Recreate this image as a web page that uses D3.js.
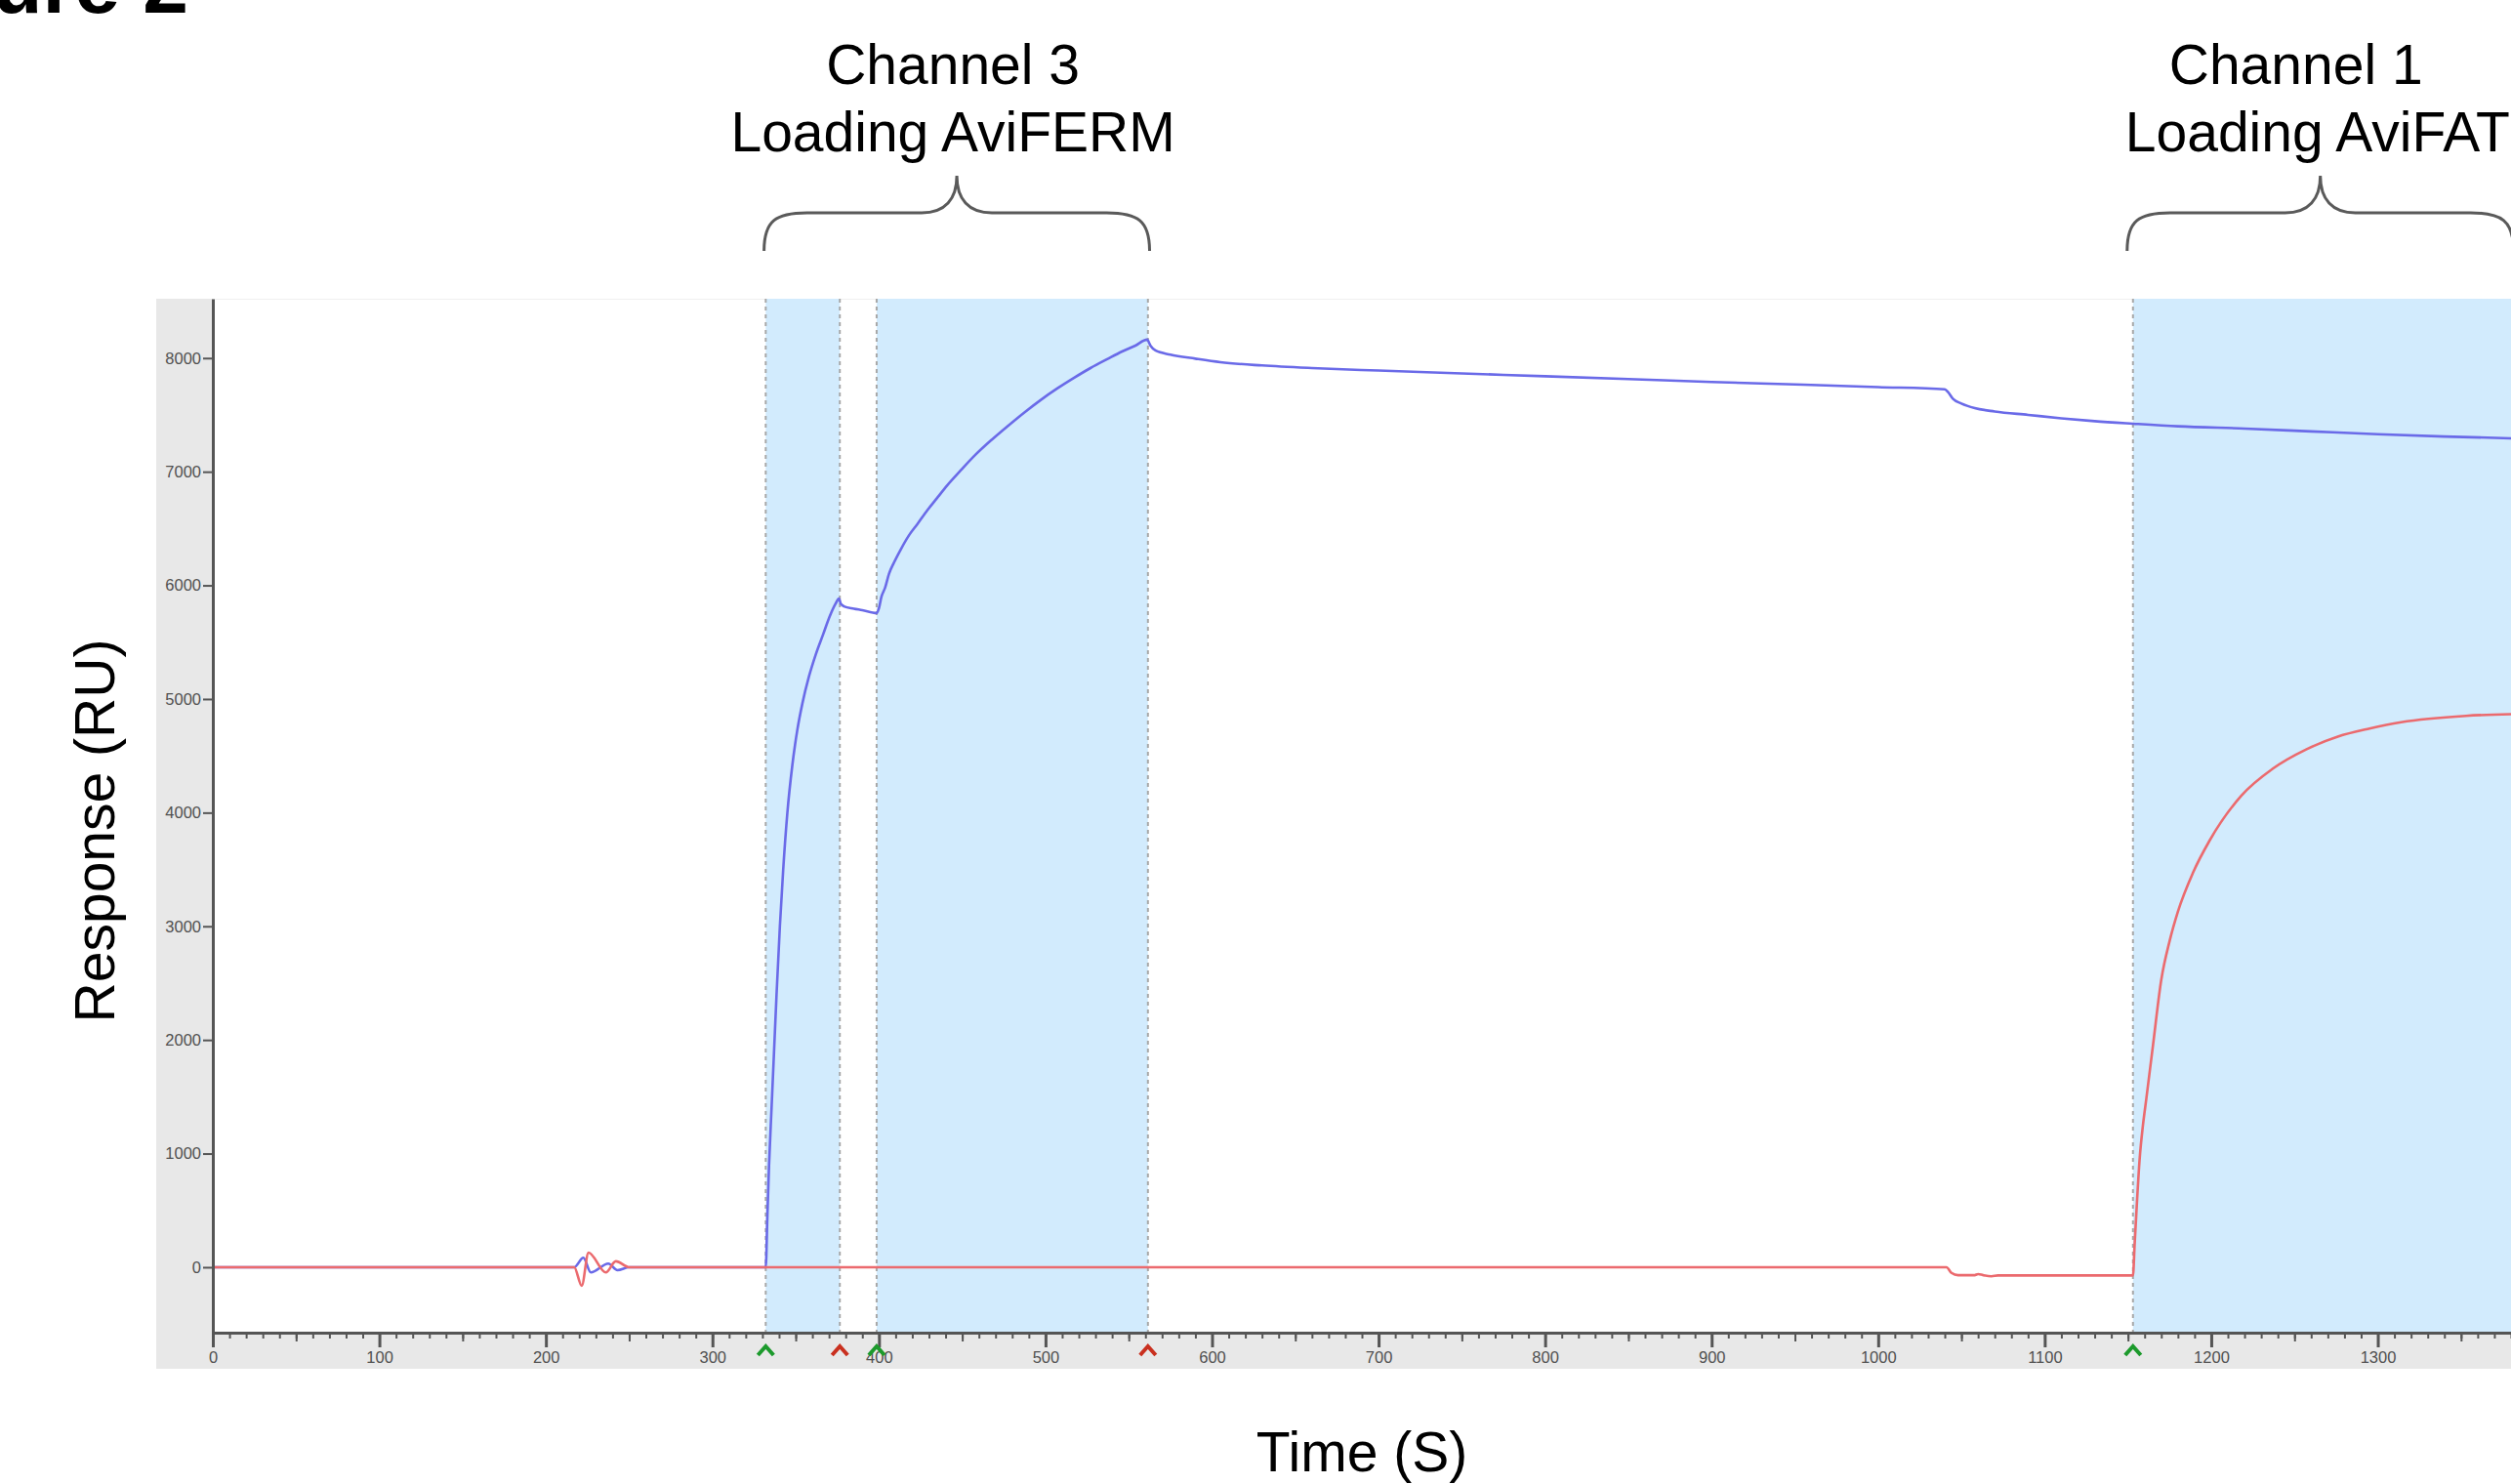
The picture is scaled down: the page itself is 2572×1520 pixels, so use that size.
<!DOCTYPE HTML>
<html>
<head>
    <title>Figure 2 - Sensorgram</title>
    <script type="text/javascript" src="https://cdn.jsdelivr.net/npm/d3@7/dist/d3.min.js"></script>
    <style>
        body { margin: 0; background-color: white; }
        .axis text { font-family: "Liberation Sans", Arial, sans-serif; font-size: 16.5px; fill: #505050; }
        .axis path, .axis line { stroke: #555; }
        .big-label { font-family: "Liberation Sans", Arial, sans-serif; font-size: 57px; fill: black; }
        .bracket { fill: none; stroke: #5a5a5a; stroke-width: 3; }
    </style>
</head>
<body>
    <div id="panel"></div>

    <script>
        // ---- data ----
        var blue_time = [0, 217, 222.5, 227, 237.5, 243, 250, 332,
                         333, 334, 335.5, 337, 338.5, 340.5, 342.5, 345, 348, 351, 354, 358,
                         362, 366.5, 370.5, 374, 376,
                         377, 379, 385, 390, 398.6,
                         400, 401.5, 403.7, 406, 409, 413, 418, 423, 429, 435, 441, 448.5, 458, 468,
                         478, 487.7, 497, 507, 517, 527, 537, 546, 554, 561,
                         563, 566, 575, 590, 605, 630, 660, 700, 750, 800, 850, 900, 950, 1000, 1040,
                         1042, 1045, 1050, 1058, 1070, 1090, 1110, 1130, 1153, 1180, 1220, 1260, 1300, 1340, 1380];
        var blue_resp = [0, 0, 83, -46, 32, -26, 0, 0,
                         450, 900, 1400, 1900, 2400, 3000, 3500, 4000, 4420, 4730, 4960, 5200,
                         5390, 5570, 5730, 5840, 5885,
                         5840, 5815, 5795, 5782, 5756,
                         5800, 5900, 5980, 6100, 6200, 6314, 6440, 6538, 6660, 6770, 6880, 7002, 7150, 7285,
                         7410, 7526, 7630, 7732, 7825, 7912, 7990, 8058, 8110, 8162,
                         8110, 8067, 8030, 7995, 7964, 7935, 7912, 7890, 7865, 7840, 7815, 7790, 7768, 7745, 7725,
                         7700, 7640, 7600, 7560, 7530, 7500, 7470, 7445, 7423, 7400, 7380, 7355, 7330, 7310, 7294];

        var red_time = [0, 217, 221.5, 225.6, 236, 242, 250, 1041,
                        1044, 1048, 1058, 1060, 1063, 1068, 1072, 1153,
                        1154, 1155.5, 1157, 1159, 1161, 1165, 1170, 1175, 1180, 1189, 1199, 1218, 1237,
                        1257, 1276, 1295, 1314, 1353, 1380];
        var red_resp = [0, 0, -163, 129, -46, 52, 0, 0,
                        -50, -70, -70, -60, -70, -80, -72, -72,
                        200, 600, 950, 1250, 1480, 1950, 2530, 2870, 3130, 3470, 3754, 4148, 4387,
                        4556, 4669, 4740, 4796, 4852, 4866];

        var injections = [[332, 376.5], [398.6, 561.5], [1153, 1400]];
        var start_marks = [332, 398.6, 1153];
        var stop_marks = [376.5, 561.5];

        var y_ticks = [0, 1000, 2000, 3000, 4000, 5000, 6000, 7000, 8000];
        var x_ticks = [0, 100, 200, 300, 400, 500, 600, 700, 800, 900, 1000, 1100, 1200, 1300];

        var channel_labels = [["Channel 3", "Loading AviFERM"], ["Channel 1", "Loading AviFAT"]];
        var channel_spans = [[331, 562.5], [1149.5, 1381.5]];
    </script>

    <script>
        var W = 2572, H = 1520;
        var plot_left = 218, plot_right = 2572, plot_top = 306, plot_bottom = 1365;

        var svg = d3.select("#panel").append("svg")
                    .attr("width", W)
                    .attr("height", H);

        var x = d3.scaleLinear().domain([0, 1380]).range([plot_left, plot_right]);
        var y = d3.scaleLinear().domain([-576, 8522]).range([plot_bottom, plot_top]);

        function add_attributes(obj, attributes)
        {
            for(var key in attributes)
            {
                if(attributes.hasOwnProperty(key))
                    obj.attr(key, attributes[key]);
            }
        }

        // grey instrument panel + white plot area
        svg.append("rect")
           .attr("x", 160).attr("y", plot_top)
           .attr("width", W - 160).attr("height", 1402 - plot_top)
           .attr("fill", "#e8e8e8");
        svg.append("rect")
           .attr("x", plot_left).attr("y", plot_top)
           .attr("width", plot_right - plot_left).attr("height", plot_bottom - plot_top)
           .attr("fill", "white");
        svg.append("line")
           .attr("x1", plot_left).attr("x2", plot_right)
           .attr("y1", plot_top + 0.5).attr("y2", plot_top + 0.5)
           .attr("stroke", "#f0f0f0").attr("stroke-width", 1);

        // injection windows
        var inj = svg.append("g");
        injections.forEach(function(d) {
            inj.append("rect")
               .attr("x", x(d[0])).attr("y", plot_top)
               .attr("width", Math.min(x(d[1]), plot_right) - x(d[0]))
               .attr("height", plot_bottom - plot_top)
               .attr("fill", "#d2ebfd");
            [d[0], d[1]].forEach(function(t) {
                if(x(t) > plot_right) return;
                var l = inj.append("line")
                           .attr("x1", x(t)).attr("x2", x(t))
                           .attr("y1", plot_top).attr("y2", plot_bottom);
                add_attributes(l, {"stroke": "#a8a8a8", "stroke-width": 2, "stroke-dasharray": "4,4"});
            });
        });

        // sensorgram curves
        var line = d3.line()
                     .curve(d3.curveMonotoneX)
                     .x(function(d) { return x(d[0]); })
                     .y(function(d) { return y(d[1]); });

        svg.append("path")
           .datum(d3.zip(blue_time, blue_resp))
           .attr("d", line)
           .attr("fill", "none")
           .attr("stroke", "#6a6ae8")
           .attr("stroke-width", 2.6)
           .attr("stroke-linejoin", "round");
        svg.append("path")
           .datum(d3.zip(red_time, red_resp))
           .attr("d", line)
           .attr("fill", "none")
           .attr("stroke", "#eb6a6e")
           .attr("stroke-width", 2.6)
           .attr("stroke-linejoin", "round");

        // axes
        var fmt = d3.format("d");
        var y_axis = svg.append("g")
                        .attr("class", "axis")
                        .attr("transform", "translate(" + plot_left + ",0)")
                        .call(d3.axisLeft(y).tickValues(y_ticks).tickFormat(fmt).tickSize(10).tickPadding(2).tickSizeOuter(0));
        y_axis.select(".domain").attr("stroke-width", 3);
        y_axis.selectAll(".tick line").attr("stroke-width", 2);

        var minor = svg.append("g")
                       .attr("class", "axis")
                       .attr("transform", "translate(0," + plot_bottom + ")")
                       .call(d3.axisBottom(x).tickValues(d3.range(0, 1390, 10)).tickSize(6).tickFormat("").tickSizeOuter(0));
        minor.selectAll(".tick line").attr("stroke-width", 2);
        var mid = svg.append("g")
                     .attr("class", "axis")
                     .attr("transform", "translate(0," + plot_bottom + ")")
                     .call(d3.axisBottom(x).tickValues(d3.range(50, 1390, 100)).tickSize(9).tickFormat("").tickSizeOuter(0));
        mid.selectAll(".tick line").attr("stroke-width", 2);
        var x_axis = svg.append("g")
                        .attr("class", "axis")
                        .attr("transform", "translate(0," + plot_bottom + ")")
                        .call(d3.axisBottom(x).tickValues(x_ticks).tickFormat(fmt).tickSize(15).tickPadding(4).tickSizeOuter(0));
        x_axis.select(".domain").attr("stroke-width", 3);
        x_axis.selectAll(".tick line").attr("stroke-width", 3);

        // injection start / stop markers
        var chevron = "M-8,5 L0,-4 L8,5";
        start_marks.forEach(function(t) {
            svg.append("path").attr("d", chevron)
               .attr("transform", "translate(" + x(t) + ",1383)")
               .attr("fill", "none").attr("stroke", "#1c9a2c").attr("stroke-width", 4);
        });
        stop_marks.forEach(function(t) {
            svg.append("path").attr("d", chevron)
               .attr("transform", "translate(" + x(t) + ",1383)")
               .attr("fill", "none").attr("stroke", "#c9301f").attr("stroke-width", 4);
        });

        // axis titles
        svg.append("text")
           .attr("class", "big-label")
           .attr("transform", "translate(117,851) rotate(-90)")
           .attr("text-anchor", "middle")
           .text("Response (RU)");
        svg.append("text")
           .attr("class", "big-label")
           .attr("x", 1395).attr("y", 1507)
           .attr("text-anchor", "middle")
           .text("Time (S)");

        // figure title, cut off at the top as in the source figure
        svg.append("text")
           .attr("x", 193).attr("y", 13)
           .attr("text-anchor", "end")
           .attr("font-family", "Liberation Sans, Arial, sans-serif")
           .attr("font-weight", "bold")
           .attr("font-size", 84)
           .text("Figure 2");

        // channel braces
        function brace(x0, x1)
        {
            var xc = (x0 + x1) / 2, yb = 257, ym = 218, yt = 180;
            return "M" + x0 + "," + yb + " C" + x0 + "," + (ym + 8) + " " + (x0 + 12) + "," + ym + " " + (x0 + 44) + "," + ym +
                   " L" + (xc - 36) + "," + ym + " C" + (xc - 12) + "," + ym + " " + xc + "," + (ym - 14) + " " + xc + "," + yt +
                   " M" + x1 + "," + yb + " C" + x1 + "," + (ym + 8) + " " + (x1 - 12) + "," + ym + " " + (x1 - 44) + "," + ym +
                   " L" + (xc + 36) + "," + ym + " C" + (xc + 12) + "," + ym + " " + xc + "," + (ym - 14) + " " + xc + "," + yt;
        }
        channel_spans.forEach(function(s) {
            svg.append("path").attr("class", "bracket").attr("d", brace(x(s[0]), x(s[1])));
        });

        var c3 = channel_spans[0], c1 = channel_spans[1];
        svg.append("text").attr("class", "big-label")
           .attr("x", (x(c3[0]) + x(c3[1])) / 2 - 4).attr("y", 86)
           .attr("text-anchor", "middle").text(channel_labels[0][0]);
        svg.append("text").attr("class", "big-label")
           .attr("x", (x(c3[0]) + x(c3[1])) / 2 - 4).attr("y", 155)
           .attr("text-anchor", "middle").text(channel_labels[0][1]);
        svg.append("text").attr("class", "big-label")
           .attr("x", (x(c1[0]) + x(c1[1])) / 2 - 25).attr("y", 86)
           .attr("text-anchor", "middle").text(channel_labels[1][0]);
        svg.append("text").attr("class", "big-label")
           .attr("x", x(c1[0]) - 2).attr("y", 155)
           .attr("text-anchor", "start").text(channel_labels[1][1]);
    </script>
</body>
</html>
